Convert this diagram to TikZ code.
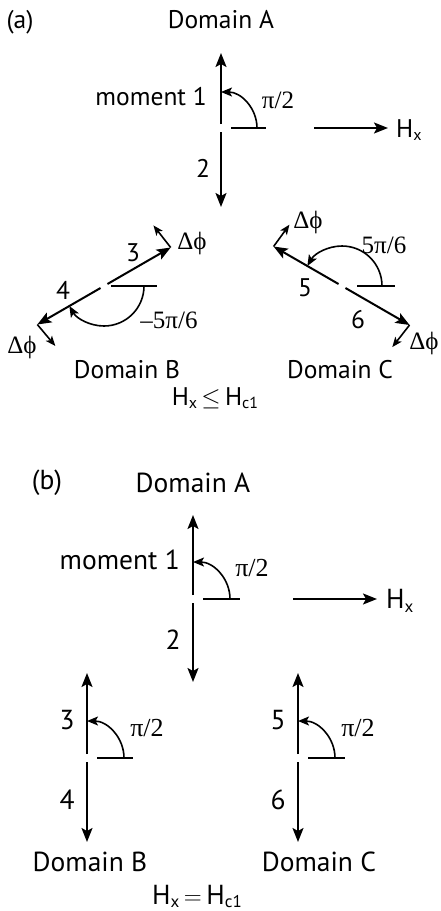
\documentclass[tikz,border=0pt]{standalone}
\usepackage{fontspec}
\setmainfont{PT Sans}
\newfontfamily\serifsy{Liberation Serif}
\usetikzlibrary{arrows.meta,calc}
\newcommand\lowsub[2][16]{\raisebox{-0.25ex}{\fontsize{#1}{#1}\selectfont #2}}
\begin{document}
\begin{tikzpicture}[x=1pt,y=1pt,
  vec/.style={line width=2pt,-{Stealth[length=14pt,width=11pt,inset=3pt]}},
  rot/.style={line width=1.6pt,-{Stealth[length=11pt,width=9pt,inset=2.5pt]}},
  dphi/.style={line width=1.6pt,-{Stealth[length=10pt,width=8pt,inset=2.5pt]}},
  ref/.style={line width=1.6pt},
  lbla/.style={font=\fontsize{25.5}{28}\selectfont, inner sep=0pt},
  lblb/.style={font=\fontsize{27.5}{30}\selectfont, inner sep=0pt},
  anga/.style={font=\serifsy\fontsize{25}{27}\selectfont, inner sep=0pt},
  angb/.style={font=\serifsy\fontsize{26}{28}\selectfont, inner sep=0pt},
]
\useasboundingbox (0,0) rectangle (440,-911);

%================ Panel (a) =================
\node[lbla] (pa) at (20,-22) {(a)};
\node[lbla] (dAa) at (221,-20) {Domain A};
% Domain A
\coordinate (A) at (221,-128);
\coordinate (Aup) at (221,-124); \coordinate (Atop) at (221,-53);
\coordinate (Adn) at (221,-132); \coordinate (Abot) at (221,-207);
\coordinate (Ar1) at (231,-128); \coordinate (Ar2) at (266,-128);
\draw[vec] (Aup) -- (Atop);
\draw[vec] (Adn) -- (Abot);
\draw[ref] (Ar1) -- (Ar2);
\draw[rot] (A) ++(0:36) arc[start angle=0,end angle=90,radius=36];
\node[lbla,anchor=east] (m1a) at (207,-97) {moment 1};
\node[anga] (pia) at (278,-100) {π/2};
\node[lbla] (n2a) at (203,-168) {2};
% H_x
\coordinate (Ha1) at (314,-128); \coordinate (Ha2) at (388,-128);
\draw[vec] (Ha1) -- (Ha2);
\node[lbla,anchor=west] (Hxa) at (396,-130) {H\lowsub{x}};

% Domain B
\coordinate (B) at (104,-286);
\coordinate (B3s) at ($(B)+(30:4)$);
\coordinate (B3t) at ($(B)+(30:77)$);
\coordinate (B4s) at ($(B)+(210:4)$);
\coordinate (B4t) at ($(B)+(210:77)$);
\coordinate (Br1) at (111,-286); \coordinate (Br2) at (157,-286);
\coordinate (B3d) at ($(B3t)+(128:28)$);
\coordinate (B4d) at ($(B4t)+(-50:28)$);
\draw[vec] (B3s) -- (B3t);
\draw[vec] (B4s) -- (B4t);
\draw[ref] (Br1) -- (Br2);
\draw[rot] (B) ++(0:40) arc[start angle=0,end angle=-150,radius=40];
\draw[dphi] (B3t) -- (B3d);
\draw[dphi] (B4t) -- (B4d);
\node[lbla] (n3a) at (133,-253) {3};
\node[lbla] (n4a) at (63,-290) {4};
\node[anga] (mfa) at (169,-320) {–5π/6};
\node[anga] (dp3) at (192,-243) {Δϕ};
\node[anga] (dp4) at (22,-347) {Δϕ};

% Domain C
\coordinate (C) at (342,-286);
\coordinate (C5s) at ($(C)+(150:4)$);
\coordinate (C5t) at ($(C)+(150:79)$);
\coordinate (C6s) at ($(C)+(-30:4)$);
\coordinate (C6t) at ($(C)+(-30:78)$);
\coordinate (Cr1) at (357,-286); \coordinate (Cr2) at (395,-286);
\coordinate (C5d) at ($(C5t)+(54:27)$);
\coordinate (C6d) at ($(C6t)+(232:28)$);
\draw[vec] (C5s) -- (C5t);
\draw[vec] (C6s) -- (C6t);
\draw[ref] (Cr1) -- (Cr2);
\draw[rot] (C) ++(0:40) arc[start angle=0,end angle=150,radius=40];
\draw[dphi] (C5t) -- (C5d);
\draw[dphi] (C6t) -- (C6d);
\node[lbla] (n5a) at (305,-288) {5};
\node[lbla] (n6a) at (358,-320) {6};
\node[anga] (pfa) at (384,-245) {5π/6};
\node[anga] (dp5) at (308,-222) {Δϕ};
\node[anga] (dp6) at (424,-343) {Δϕ};

\node[lbla] (dBa) at (127,-370) {Domain B};
\node[lbla] (dCa) at (340,-370) {Domain C};
\node[lbla,anchor=base] (conda) at (215,-405) {H\lowsub{x}\,$\le$\,H\lowsub{c1}};

%================ Panel (b) =================
\node[lblb] (pb) at (47,-483) {(b)};
\node[lblb] (dAb) at (193,-483) {Domain A};
\coordinate (D) at (193,-599);
\coordinate (Dup) at (193,-595); \coordinate (Dtop) at (193,-515);
\coordinate (Ddn) at (193,-603); \coordinate (Dbot) at (193,-682);
\coordinate (Dr1) at (203,-599); \coordinate (Dr2) at (240,-599);
\draw[vec] (Dup) -- (Dtop);
\draw[vec] (Ddn) -- (Dbot);
\draw[ref] (Dr1) -- (Dr2);
\draw[rot] (D) ++(0:37) arc[start angle=0,end angle=90,radius=37];
\node[lblb,anchor=east] (m1b) at (180,-560) {moment 1};
\node[angb] (pib) at (252,-568) {π/2};
\node[lblb] (n2b) at (173,-640) {2};
\coordinate (Hb1) at (293,-599); \coordinate (Hb2) at (377,-599);
\draw[vec] (Hb1) -- (Hb2);
\node[lblb,anchor=west] (Hxb) at (386,-601) {H\lowsub[17]{x}};

% Domain B (b)
\coordinate (E) at (87,-758);
\coordinate (Eup) at (87,-754); \coordinate (Etop) at (87,-673);
\coordinate (Edn) at (87,-762); \coordinate (Ebot) at (87,-842);
\coordinate (Er1) at (97,-758); \coordinate (Er2) at (133,-758);
\draw[vec] (Eup) -- (Etop);
\draw[vec] (Edn) -- (Ebot);
\draw[ref] (Er1) -- (Er2);
\draw[rot] (E) ++(0:37) arc[start angle=0,end angle=90,radius=37];
\node[lblb] (n3b) at (67,-720) {3};
\node[angb] (pie) at (147,-728) {π/2};
\node[lblb] (n4b) at (67,-800) {4};

% Domain C (b)
\coordinate (F) at (298,-758);
\coordinate (Fup) at (298,-754); \coordinate (Ftop) at (298,-673);
\coordinate (Fdn) at (298,-762); \coordinate (Fbot) at (298,-842);
\coordinate (Fr1) at (308,-758); \coordinate (Fr2) at (345,-758);
\draw[vec] (Fup) -- (Ftop);
\draw[vec] (Fdn) -- (Fbot);
\draw[ref] (Fr1) -- (Fr2);
\draw[rot] (F) ++(0:37) arc[start angle=0,end angle=90,radius=37];
\node[lblb] (n5b) at (278,-720) {5};
\node[angb] (pif) at (358,-728) {π/2};
\node[lblb] (n6b) at (278,-800) {6};

\node[lblb] (dBb) at (90,-862) {Domain B};
\node[lblb] (dCb) at (319,-862) {Domain C};
\node[lblb,anchor=base] (condb) at (197,-904) {H\lowsub[17]{x}\,$=$\,H\lowsub[17]{c1}};
\end{tikzpicture}
\end{document}
